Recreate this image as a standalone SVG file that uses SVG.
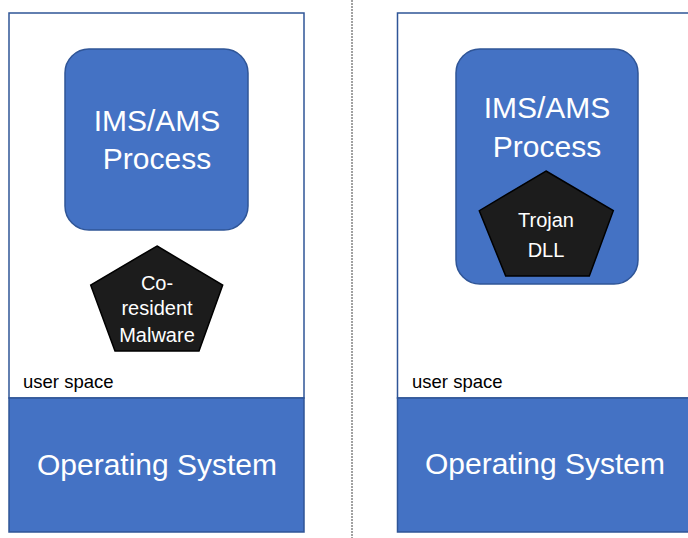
<svg xmlns="http://www.w3.org/2000/svg" width="688" height="538" viewBox="0 0 688 538">
<style>
.frame{fill:#fff;stroke:#2F5597;stroke-width:1.5}
.os{fill:#4472C4;stroke:#2F5597;stroke-width:1.5}
.proc{fill:#4472C4;stroke:#2F5597;stroke-width:1.5}
.pent{fill:#1c1c1c;stroke:#000;stroke-width:1.5}
text{font-family:"Liberation Sans","Open Sans",sans-serif;text-anchor:middle}
.big{fill:#fff;font-size:30px}
.mid{fill:#fff;font-size:20px}
.small{fill:#000;font-size:18.5px;text-anchor:start}
</style>
<g id="left-panel">
<rect class="frame" x="9" y="13" width="295" height="385"/>
<rect class="os" x="9" y="398" width="295" height="134"/>
<text class="big" x="157" y="475">Operating System</text>
<text class="small" x="23" y="388">user space</text>
</g>
<g id="left-process">
<rect class="proc" x="65" y="49" width="183" height="181" rx="24"/>
<text class="big" x="157" y="131">IMS/AMS</text>
<text class="big" x="157" y="169">Process</text>
</g>
<g id="coresident-malware">
<polygon class="pent" points="157,246 222.7,285 199,351 115,351 90.7,285"/>
<text class="mid" x="157" y="290">Co-</text>
<text class="mid" x="157" y="315">resident</text>
<text class="mid" x="157" y="342">Malware</text>
</g>
<g id="right-panel">
<rect class="frame" x="397.5" y="13" width="300" height="385"/>
<rect class="os" x="397.5" y="398" width="300" height="134"/>
<text class="big" x="545" y="474">Operating System</text>
<text class="small" x="412" y="388">user space</text>
</g>
<g id="right-process">
<rect class="proc" x="456" y="49" width="182" height="235" rx="24"/>
<text class="big" x="547" y="118">IMS/AMS</text>
<text class="big" x="547" y="157">Process</text>
</g>
<g id="trojan-dll">
<polygon class="pent" points="546,171 613.3,210.7 589.3,276 505.7,276 479.3,210.7"/>
<text class="mid" x="546" y="227">Trojan</text>
<text class="mid" x="546" y="257">DLL</text>
</g>
<g id="connectors">
<line x1="352" y1="0" x2="352" y2="538" stroke="#444" stroke-width="1" stroke-dasharray="2,1"/>
</g>
</svg>
